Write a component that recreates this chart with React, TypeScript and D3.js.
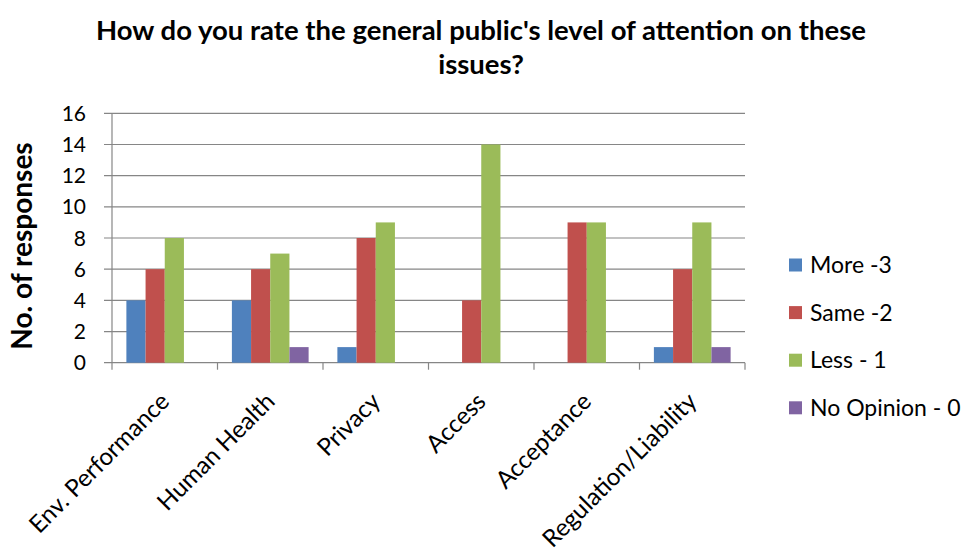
import React from "react";
import * as d3 from "d3";

const categories = ["Env. Performance", "Human Health", "Privacy", "Access", "Acceptance", "Regulation/Liability"];
const seriesNames = ["More -3", "Same -2", "Less - 1", "No Opinion - 0"];
const more = [4, 4, 1, 0, 0, 1];
const same = [6, 6, 8, 4, 9, 6];
const less = [8, 7, 9, 14, 9, 9];
const noOpinion = [0, 1, 0, 0, 0, 1];
const yTicks = [0, 2, 4, 6, 8, 10, 12, 14, 16];
const colors = ["#4F81BD", "#C0504D", "#9BBB59", "#8064A2"];

const W = 966, H = 553;
const left = 112, right = 745, top = 113.3, bottom = 362.7;
const FONT = "Lato, 'Open Sans', sans-serif";

export default function App() {
  const series = [more, same, less, noOpinion];
  const x = d3.scaleBand<string>().domain(categories).range([left, right]).paddingInner(0).paddingOuter(0);
  const y = d3.scaleLinear().domain([0, 16]).range([bottom, top]);
  const bw = x.bandwidth();
  const groupW = bw / 1.375;
  const inner = d3.scaleBand<number>().domain([0, 1, 2, 3]).range([0, groupW]);
  const grid = "#868686";
  return (
    <svg width={W} height={H} style={{ position: "absolute", left: 0, top: 0 }} fontFamily={FONT}>
      <rect width={W} height={H} fill="#fff" />
      <text x={481} y={40} textAnchor="middle" fontSize={27.5} fontWeight="bold">How do you rate the general public's level of attention on these</text>
      <text x={481} y={74} textAnchor="middle" fontSize={27.5} fontWeight="bold">issues?</text>
      {yTicks.map((t) => (
        <g key={t}>
          <line x1={left - 8} x2={right} y1={y(t)} y2={y(t)} stroke={grid} strokeWidth={1.2} />
          <text x={86} y={y(t) + 7.5} textAnchor="end" fontSize={21}>{t}</text>
        </g>
      ))}
      <line x1={left} x2={left} y1={top} y2={bottom} stroke={grid} strokeWidth={1.2} />
      {categories.map((c) => (
        <line key={c} x1={x(c)!} x2={x(c)!} y1={bottom} y2={bottom + 7} stroke={grid} strokeWidth={1.2} />
      ))}
      <line x1={right} x2={right} y1={bottom} y2={bottom + 7} stroke={grid} strokeWidth={1.2} />
      {categories.map((c, i) =>
        series.map((s, k) =>
          s[i] > 0 ? (
            <rect key={c + k} x={x(c)! + (bw - groupW) / 2 + inner(k)!} y={y(s[i])} width={inner.bandwidth()} height={bottom - y(s[i])} fill={colors[k]} />
          ) : null
        )
      )}
      {categories.map((c) => {
        const cx = x(c)! + bw / 2 + 6;
        const cy = 403;
        return (
          <text key={c} x={cx} y={cy} textAnchor="end" fontSize={24.2} transform={`rotate(-45 ${cx} ${cy})`}>{c}</text>
        );
      })}
      <text x={0} y={0} transform={`translate(32 246) rotate(-90)`} textAnchor="middle" fontSize={28} fontWeight="bold">No. of responses</text>
      {seriesNames.map((n, k) => {
        const cy = 265 + k * 47.6;
        return (
          <g key={n}>
            <rect x={789} y={cy - 6.5} width={13} height={13} fill={colors[k]} />
            <text x={810} y={cy + 8} fontSize={23}>{n}</text>
          </g>
        );
      })}
    </svg>
  );
}
